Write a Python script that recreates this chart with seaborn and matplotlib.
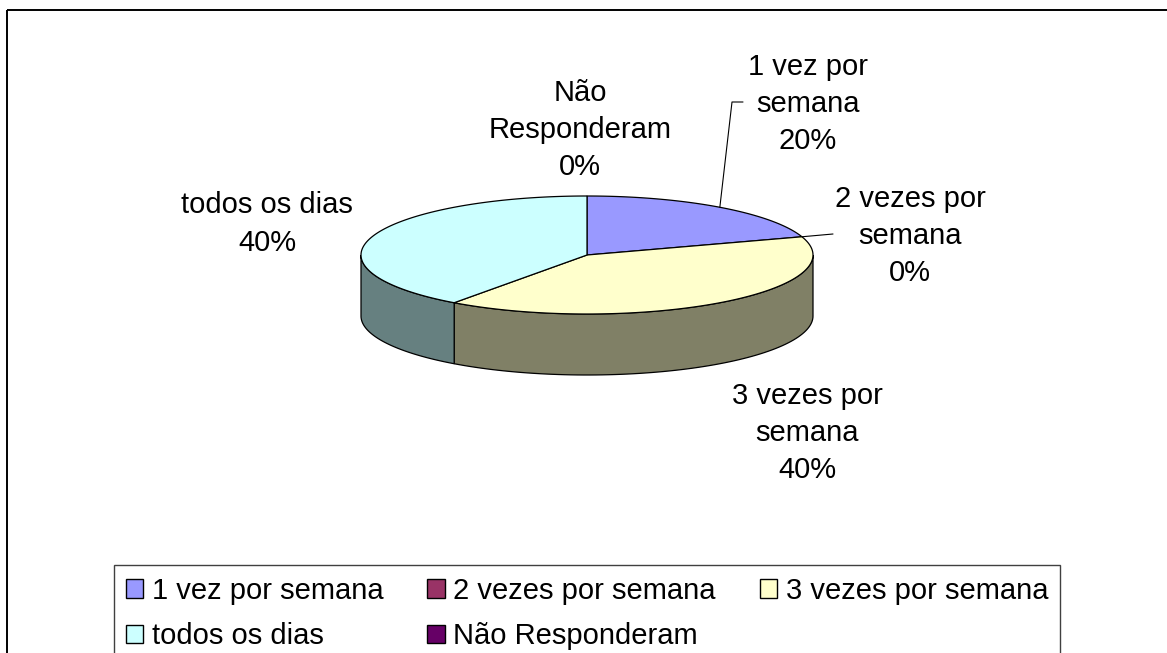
import numpy as np
import matplotlib
matplotlib.use("Agg")
import matplotlib.pyplot as plt
import matplotlib.colors as mcolors
from matplotlib.patches import Polygon, Rectangle, Patch
import seaborn as sns

# dados do grafico
categorias = ["1 vez por semana", "2 vezes por semana", "3 vezes por semana",
              "todos os dias", "Não Responderam"]
nomes_rotulo = ["1 vez por\nsemana", "2 vezes por\nsemana", "3 vezes por\nsemana",
                "todos os dias", "Não\nResponderam"]
valores = [20, 0, 40, 40, 0]
cores = ["#9999FF", "#993366", "#FFFFCC", "#CCFFFF", "#660066"]

sns.set_theme(style="white")
plt.rcParams['font.family'] = ['Liberation Sans', 'DejaVu Sans']
plt.rcParams['text.color'] = 'black'
paleta = sns.color_palette(cores)

W, H = 1167, 653
fig = plt.figure(figsize=(W / 100, H / 100), dpi=100)
ax = fig.add_axes([0, 0, 1, 1])
ax.set_xlim(0, W)
ax.set_ylim(H, 0)
ax.axis("off")

# geometria da pizza 3D (em pixels)
cx, cy, rx, ry, prof = 587, 255, 226, 59, 61


def ponto(theta, dy=0.0):
    t = np.radians(theta)
    return cx + rx * np.sin(t), cy - ry * np.cos(t) + dy


total = sum(valores)
limites = np.concatenate([[0], np.cumsum(valores)]) * 360.0 / total

# paredes laterais (metade da frente)
for i, cor in enumerate(paleta):
    a = max(limites[i], 90)
    b = min(limites[i + 1], 270)
    if b <= a:
        continue
    th = np.linspace(a, b, 80)
    topo = [ponto(t) for t in th]
    base = [ponto(t, prof) for t in th[::-1]]
    escura = tuple(np.array(mcolors.to_rgb(cor)) * 0.5)
    ax.add_patch(Polygon(topo + base, closed=True, facecolor=escura,
                         edgecolor="black", lw=0.9, zorder=1))

# tampa
for i, cor in enumerate(paleta):
    if valores[i] == 0:
        continue
    th = np.linspace(limites[i], limites[i + 1], 120)
    pts = [(cx, cy)] + [ponto(t) for t in th]
    ax.add_patch(Polygon(pts, closed=True, facecolor=cor,
                         edgecolor="black", lw=0.9, zorder=2))

# rotulos
pos_rotulos = [(808, 104), (910, 236), (807, 433), (267, 224), (580, 130)]
for nome, v, (x, y) in zip(nomes_rotulo, valores, pos_rotulos):
    ax.text(x, y, f"{nome}\n{v}%", ha="center", va="center", fontsize=21,
            linespacing=1.42, color="black", zorder=5)

# linhas de chamada
meio = (limites[:-1] + limites[1:]) / 2
x0, y0 = ponto(meio[0])
ax.plot([x0, 732, 743], [y0, 102, 102], color="black", lw=0.8, zorder=3)
x1, y1 = ponto(limites[2])
ax.plot([x1, 833], [y1, 234], color="black", lw=0.8, zorder=3)

# borda externa
ax.add_patch(Rectangle((7, 10), 1300, 800, fill=False, edgecolor="black",
                       lw=1.4, zorder=0))

# legenda (ordem por linhas)
ordem = [0, 3, 1, 4, 2]
handles = [Patch(facecolor=paleta[i], edgecolor="black", lw=1) for i in ordem]
labels = [categorias[i] for i in ordem]
leg = fig.legend(handles, labels, loc="upper center",
                 bbox_to_anchor=(587 / W, 1 - 565 / H), ncol=3,
                 fontsize=21, frameon=True, fancybox=False,
                 edgecolor="#404040", framealpha=1,
                 handlelength=0.6, handleheight=0.6, handletextpad=0.3,
                 columnspacing=1.5, borderpad=0.4, labelspacing=0.6,
                 borderaxespad=0)
leg.get_frame().set_linewidth(1.0)
for t in leg.get_texts():
    t.set_color("black")

fig.savefig("out.png", dpi=100)
